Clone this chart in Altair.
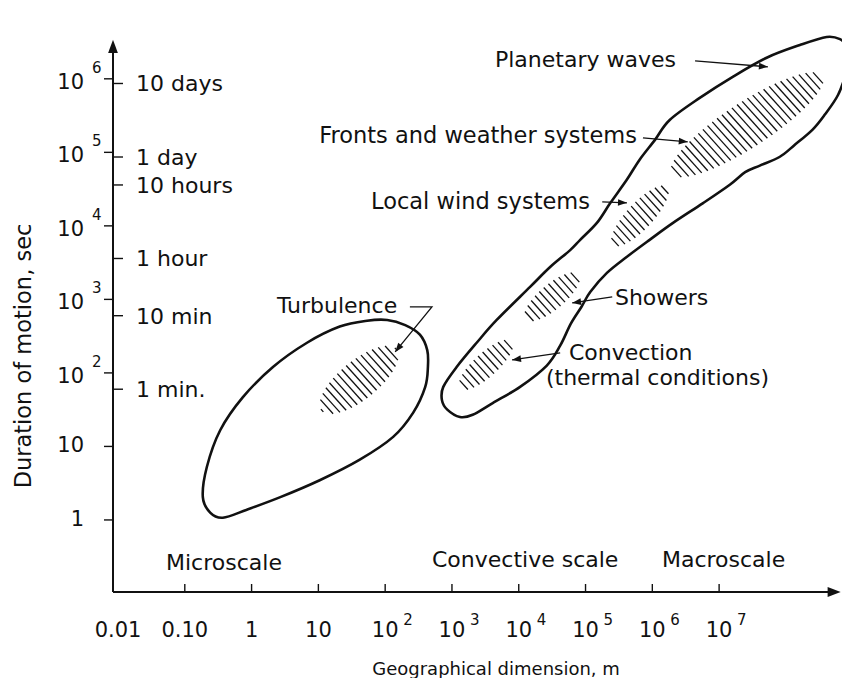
import numpy as np
import pandas as pd
import altair as alt

# ---------------- values (log10 units) ----------------
X_LO, X_HI = -2.075, 8.78      # log10 of geographical dimension (m)
Y_LO, Y_HI = -0.98, 6.46       # log10 of duration of motion (s)

x_tick_exp = [-1, 0, 1, 2, 3, 4, 5, 6, 7]
x_label_exp = [-2, -1, 0, 1, 2, 3, 4, 5, 6, 7]
x_label_base = ["0.01", "0.10", "1", "10", "10", "10", "10", "10", "10", "10"]
x_label_sup = ["", "", "", "", "2", "3", "4", "5", "6", "7"]

y_tick_exp = [0, 1, 2, 3, 4, 5, 6]
y_label_base = ["1", "10", "10", "10", "10", "10", "10"]
y_label_sup = ["", "", "2", "3", "4", "5", "6"]

time_seconds = [60, 600, 3600, 36000, 86400, 864000]
time_labels = ["1 min.", "10 min", "1 hour", "10 hours", "1 day", "10 days"]

# turbulence envelope (log10 m, log10 s)
turb_x = [2.03, 2.30, 2.52, 2.63, 2.64, 2.60, 2.42, 2.12, 1.62, 1.02, 0.43, -0.07,
          -0.43, -0.62, -0.73, -0.67, -0.47, -0.13, 0.32, 0.83, 1.32, 1.73]
turb_y = [2.72, 2.65, 2.52, 2.31, 2.08, 1.81, 1.46, 1.13, 0.82, 0.54, 0.31, 0.14,
          0.03, 0.10, 0.31, 0.72, 1.22, 1.67, 2.08, 2.41, 2.63, 2.71]

# convection ... planetary waves envelope
big_x = [2.85, 2.87, 3.07, 3.37, 3.67, 4.17, 4.47, 4.77, 4.92, 5.17, 5.37, 5.62,
         5.81, 6.04, 6.26, 6.71, 7.21, 7.72, 8.21, 8.61, 8.81, 8.91, 8.94, 8.91,
         8.78, 8.58, 8.40, 8.13, 7.91, 7.61, 7.39, 7.16, 6.76, 6.31, 5.96, 5.62,
         5.32, 5.07, 4.94, 4.78, 4.62, 4.42, 4.02, 3.61, 3.31, 3.12, 2.93]
big_y = [1.63, 1.81, 2.08, 2.41, 2.72, 3.17, 3.44, 3.67, 3.81, 4.04, 4.31, 4.63,
         4.90, 5.17, 5.44, 5.74, 6.03, 6.29, 6.46, 6.57, 6.54, 6.44, 6.26, 6.10,
         5.78, 5.51, 5.31, 5.10, 4.94, 4.82, 4.73, 4.56, 4.31, 4.04, 3.81, 3.58,
         3.36, 3.10, 2.90, 2.67, 2.37, 2.10, 1.81, 1.59, 1.43, 1.40, 1.50]

# hatched core regions: long-axis end points and width ratio
hatch_x1 = [1.05, 3.12, 4.10, 5.41, 6.29]
hatch_y1 = [1.49, 1.79, 2.73, 3.74, 4.71]
hatch_x2 = [2.17, 3.90, 4.90, 6.22, 8.55]
hatch_y2 = [2.32, 2.43, 3.34, 4.53, 6.04]
hatch_ratio = [0.40, 0.34, 0.36, 0.33, 0.25]

# annotation arrows (polylines, last point = arrow tip)
arrow_id = ["pw", "pw", "fr", "fr", "lw", "lw", "sh", "sh", "cv", "cv", "tb", "tb", "tb"]
arrow_x = [6.64, 7.73, 5.86, 6.53, 5.25, 5.62, 5.40, 4.80, 4.62, 3.90, 2.37, 2.70, 2.15]
arrow_y = [6.245, 6.163, 5.197, 5.143, 4.327, 4.313, 3.034, 2.952, 2.272, 2.177, 2.898, 2.898, 2.286]

# annotation texts (left end or right end, baseline)
ann_left_text = ["Planetary waves", "Showers", "Convection", "(thermal conditions)",
                 "Turbulence", "Microscale", "Convective scale", "Macroscale"]
ann_left_x = [3.644, 5.440, 4.751, 4.407, 0.380, -1.281, 2.701, 6.144]
ann_left_y = [6.163, 2.925, 2.175, 1.840, 2.816, -0.680, -0.639, -0.639]
ann_right_text = ["Fronts and weather systems", "Local wind systems"]
ann_right_x = [5.769, 5.066]
ann_right_y = [5.129, 4.231]

x_title = "Geographical dimension, m"
x_title_pos = 3.66
y_title = "Duration of motion, sec"
y_title_pos = 2.23

# ---------------- layout ----------------
W, H = 725, 547
KX = W / (X_HI - X_LO)
KY = H / (Y_HI - Y_LO)
FONT = "DejaVu Sans"
INK = "#111111"
ARROW = "M0,0L-2,-0.75L-2,0.75Z"

xs = alt.Scale(type="log", domain=[10 ** X_LO, 10 ** X_HI])
ys = alt.Scale(type="log", domain=[10 ** Y_LO, 10 ** Y_HI])


def X(f="x"):
    return alt.X(f"{f}:Q", scale=xs, axis=None)


def Y(f="y"):
    return alt.Y(f"{f}:Q", scale=ys, axis=None)


def p10(v):
    return [10 ** float(a) for a in v]


# envelopes
env = pd.concat([
    pd.DataFrame({"s": "turb", "i": range(len(turb_x)), "x": p10(turb_x), "y": p10(turb_y)}),
    pd.DataFrame({"s": "big", "i": range(len(big_x)), "x": p10(big_x), "y": p10(big_y)}),
])
env_layer = alt.Chart(env).mark_line(
    interpolate="cardinal-closed", color=INK, strokeWidth=2.6
).encode(x=X(), y=Y(), detail="s:N", order="i:Q")

# hatching
HA = np.radians(48)
GAP = 6.0


def hatch(x1, y1, x2, y2, ratio):
    u1, v1, u2, v2 = x1 * KX, -y1 * KY, x2 * KX, -y2 * KY
    cu, cv = (u1 + u2) / 2, (v1 + v2) / 2
    L = np.hypot(u2 - u1, v2 - v1)
    a = L / 2
    b = a * ratio
    e = np.array([(u2 - u1) / L, (v2 - v1) / L])
    f = np.array([-e[1], e[0]])
    d = np.array([np.cos(HA), np.sin(HA)])
    n = np.array([-d[1], d[0]])
    de, df, ne, nf = d @ e, d @ f, n @ e, n @ f
    out = []
    kmax = int(a / GAP) + 2
    for k in range(-kmax, kmax + 1):
        s = k * GAP
        A = (de / a) ** 2 + (df / b) ** 2
        B = 2 * (s * ne * de / a ** 2 + s * nf * df / b ** 2)
        C = (s * ne / a) ** 2 + (s * nf / b) ** 2 - 1
        disc = B * B - 4 * A * C
        if disc <= 0:
            continue
        t1 = (-B - np.sqrt(disc)) / (2 * A)
        t2 = (-B + np.sqrt(disc)) / (2 * A)
        if t2 - t1 < 3:
            continue
        p1 = (cu + s * n[0] + t1 * d[0], cv + s * n[1] + t1 * d[1])
        p2 = (cu + s * n[0] + t2 * d[0], cv + s * n[1] + t2 * d[1])
        out.append({"x": 10 ** (p1[0] / KX), "y": 10 ** (-p1[1] / KY),
                    "x2": 10 ** (p2[0] / KX), "y2": 10 ** (-p2[1] / KY)})
    return out


hrows = []
for q in range(len(hatch_x1)):
    hrows += hatch(hatch_x1[q], hatch_y1[q], hatch_x2[q], hatch_y2[q], hatch_ratio[q])
hatch_layer = alt.Chart(pd.DataFrame(hrows)).mark_rule(color=INK, strokeWidth=1.3).encode(
    x=X(), y=Y(), x2="x2:Q", y2="y2:Q")

# axes
axis_df = pd.DataFrame({
    "x": [10 ** X_LO, 10 ** X_LO], "y": [10 ** Y_LO, 10 ** Y_LO],
    "x2": [10 ** 8.72, 10 ** X_LO], "y2": [10 ** Y_LO, 10 ** 6.45]})
axis_layer = alt.Chart(axis_df).mark_rule(color=INK, strokeWidth=2).encode(
    x=X(), y=Y(), x2="x2:Q", y2="y2:Q")
axhead_df = pd.DataFrame({"x": [10 ** 8.82, 10 ** X_LO], "y": [10 ** Y_LO, 10 ** 6.53],
                          "ang": [0, 270]})
axhead_layer = alt.Chart(axhead_df).mark_point(
    shape=ARROW, filled=True, size=170, color=INK, opacity=1, strokeWidth=0
).encode(x=X(), y=Y(), angle=alt.Angle("ang:Q", scale=None))

# ticks
xt = pd.DataFrame({"x": p10(x_tick_exp), "y": 10 ** Y_LO, "y2": 10 ** (Y_LO + 8 / KY)})
xt_layer = alt.Chart(xt).mark_rule(color=INK, strokeWidth=1.4).encode(x=X(), y=Y(), y2="y2:Q")
yt = pd.DataFrame({"y": p10(y_tick_exp), "x": 10 ** (X_LO - 9 / KX), "x2": 10 ** X_LO})
yt_layer = alt.Chart(yt).mark_rule(color=INK, strokeWidth=1.4).encode(x=X(), y=Y(), x2="x2:Q")
tt = pd.DataFrame({"y": time_seconds, "x": 10 ** X_LO, "x2": 10 ** (X_LO + 10 / KX)})
tt_layer = alt.Chart(tt).mark_rule(color=INK, strokeWidth=1.4).encode(x=X(), y=Y(), x2="x2:Q")

# tick labels
xl = pd.DataFrame({"x": p10(x_label_exp), "y": 10 ** Y_LO, "t": x_label_base, "s": x_label_sup})
xl_layer = alt.Chart(xl).mark_text(font=FONT, fontSize=21, color=INK, align="center",
                                   baseline="alphabetic", dy=45).encode(x=X(), y=Y(), text="t:N")
xs_layer = alt.Chart(xl[xl.s != ""]).mark_text(font=FONT, fontSize=15, color=INK, align="left",
                                              baseline="alphabetic", dx=18, dy=33).encode(
    x=X(), y=Y(), text="s:N")

yl = pd.DataFrame({"y": p10(y_tick_exp), "x": 10 ** X_LO, "t": y_label_base, "s": y_label_sup})
yl_plain = alt.Chart(yl[yl.s == ""]).mark_text(font=FONT, fontSize=21, color=INK, align="right",
                                              baseline="middle", dx=-29, dy=0).encode(
    x=X(), y=Y(), text="t:N")
yl_pow = alt.Chart(yl[yl.s != ""]).mark_text(font=FONT, fontSize=21, color=INK, align="right",
                                            baseline="middle", dx=-29, dy=4).encode(
    x=X(), y=Y(), text="t:N")
ys_layer = alt.Chart(yl[yl.s != ""]).mark_text(font=FONT, fontSize=15, color=INK, align="left",
                                              baseline="middle", dx=-21, dy=-11).encode(
    x=X(), y=Y(), text="s:N")
tl = pd.DataFrame({"y": time_seconds, "x": 10 ** X_LO, "t": time_labels})
tl_layer = alt.Chart(tl).mark_text(font=FONT, fontSize=22, color=INK, align="left",
                                   baseline="middle", dx=23, dy=1).encode(x=X(), y=Y(), text="t:N")

# titles
xtitle = alt.Chart(pd.DataFrame({"x": [10 ** x_title_pos], "y": [10 ** Y_LO], "t": [x_title]})).mark_text(
    font=FONT, fontSize=18, color=INK, align="center", baseline="alphabetic", dy=83
).encode(x=X(), y=Y(), text="t:N")
ytitle = alt.Chart(pd.DataFrame({"x": [10 ** X_LO], "y": [10 ** y_title_pos], "t": [y_title]})).mark_text(
    font=FONT, fontSize=22.5, color=INK, align="center", baseline="middle", angle=270, dx=0, dy=-89
).encode(x=X(), y=Y(), text="t:N")

# annotations
al = pd.DataFrame({"x": p10(ann_left_x), "y": p10(ann_left_y), "t": ann_left_text})
al_layer = alt.Chart(al).mark_text(font=FONT, fontSize=22, color=INK, align="left",
                                   baseline="alphabetic").encode(x=X(), y=Y(), text="t:N")
ar = pd.DataFrame({"x": p10(ann_right_x), "y": p10(ann_right_y), "t": ann_right_text})
ar_layer = alt.Chart(ar).mark_text(font=FONT, fontSize=22.5, color=INK, align="right",
                                   baseline="alphabetic").encode(x=X(), y=Y(), text="t:N")

# annotation arrows
adf = pd.DataFrame({"id": arrow_id, "x": p10(arrow_x), "y": p10(arrow_y)})
adf["i"] = range(len(adf))
arrow_lines = alt.Chart(adf).mark_line(color=INK, strokeWidth=1.3).encode(
    x=X(), y=Y(), detail="id:N", order="i:Q")
heads = []
for aid in dict.fromkeys(arrow_id):
    idx = [k for k, a in enumerate(arrow_id) if a == aid]
    k0, k1 = idx[-2], idx[-1]
    dxs = (arrow_x[k1] - arrow_x[k0]) * KX
    dys = -(arrow_y[k1] - arrow_y[k0]) * KY
    heads.append({"x": 10 ** arrow_x[k1], "y": 10 ** arrow_y[k1],
                  "ang": float(np.degrees(np.arctan2(dys, dxs)) % 360)})
head_layer = alt.Chart(pd.DataFrame(heads)).mark_point(
    shape=ARROW, filled=True, size=80, color=INK, opacity=1, strokeWidth=0
).encode(x=X(), y=Y(), angle=alt.Angle("ang:Q", scale=None))

chart = alt.layer(
    hatch_layer, env_layer, axis_layer, axhead_layer, xt_layer, yt_layer, tt_layer,
    xl_layer, xs_layer, yl_plain, yl_pow, ys_layer, tl_layer, xtitle, ytitle,
    al_layer, ar_layer, arrow_lines, head_layer
).properties(
    width=W, height=H,
    autosize=alt.AutoSizeParams(type="none"),
    padding={"left": 105, "top": 37, "right": 4, "bottom": 86},
    background="white",
).configure_view(stroke=None)

chart.save("out.html", embed_options={"renderer": "svg", "actions": False})
